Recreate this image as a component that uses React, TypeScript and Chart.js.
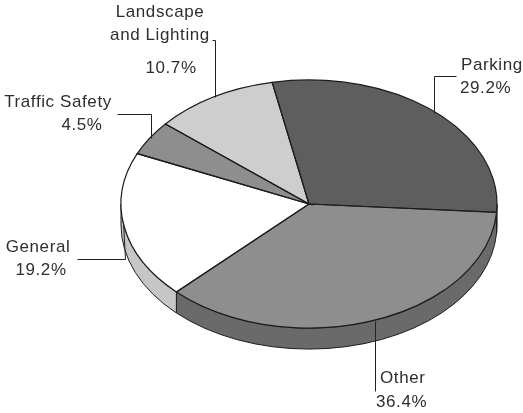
import React, { useEffect, useRef } from "react";
import { Chart, registerables } from "chart.js";

Chart.register(...registerables);

const categories = ["Parking", "Other", "General", "Traffic Safety", "Landscape and Lighting"];
const shares = [29.2, 36.4, 19.2, 4.5, 10.7];

const topColors = ["#5e5e5e", "#8e8e8e", "#ffffff", "#8e8e8e", "#cecece"];
const sideColors = ["#484848", "#6a6a6a", "#c6c6c6", "#6a6a6a", "#9e9e9e"];

const SQUASH = 0.66;
const DEPTH = 21;
const OUTLINE = "#1c1c1c";
const TEXT = "#2e2e2e";
const FONT = "17px 'Liberation Sans', Arial, sans-serif";

type Note = { lines: [string, number, number][]; align: CanvasTextAlign; leader: [number, number][] };

const notes: Note[] = [
  { align: "left", lines: [["Parking", 461, 65], ["29.2%", 460, 88]], leader: [[456, 76], [434, 76], [434, 113]] },
  { align: "left", lines: [["Other", 380, 378], ["36.4%", 376, 402]], leader: [[375, 321], [375, 391]] },
  { align: "center", lines: [["General", 38, 247], ["19.2%", 41, 270]], leader: [[77, 259], [125, 259], [123, 222]] },
  { align: "center", lines: [["Traffic Safety", 58, 102], ["4.5%", 82, 125]], leader: [[117, 114], [151, 114], [151, 138]] },
  { align: "center", lines: [["Landscape", 160, 12], ["and Lighting", 160, 35], ["10.7%", 171, 68]], leader: [[212, 40], [215, 40], [215, 97]] },
];

const pie3d = {
  id: "pie3d",
  beforeDatasetsDraw(chart: any) {
    const ctx: CanvasRenderingContext2D = chart.ctx;
    const arcs = chart.getDatasetMeta(0).data;
    const { x: cx, y: cy, outerRadius: r } = arcs[0];
    ctx.save();
    // Side wall of the disc: only the front half of the rim can be seen.
    arcs.forEach((arc: any, i: number) => {
      const two = Math.PI * 2;
      let a = arc.startAngle % two;
      if (a < -1e-6) a += two;
      const b = a + (arc.endAngle - arc.startAngle);
      const ranges = [[a, b], [a - two, b - two]];
      ranges.forEach(([s, e]) => {
        const from = Math.max(s, 0);
        const to = Math.min(e, Math.PI);
        if (to <= from) return;
        ctx.save();
        ctx.translate(cx, cy);
        ctx.scale(1, SQUASH);
        ctx.beginPath();
        ctx.arc(0, 0, r, from, to);
        ctx.arc(0, DEPTH / SQUASH, r, to, from, true);
        ctx.closePath();
        ctx.restore();
        ctx.fillStyle = sideColors[i];
        ctx.fill();
        ctx.strokeStyle = OUTLINE;
        ctx.lineWidth = 1;
        ctx.stroke();
      });
    });
    // Squash the library's own arcs onto the tilted disc.
    ctx.translate(cx, cy);
    ctx.scale(1, SQUASH);
    ctx.translate(-cx, -cy);
  },
  afterDatasetsDraw(chart: any) {
    const ctx: CanvasRenderingContext2D = chart.ctx;
    const arcs = chart.getDatasetMeta(0).data;
    ctx.restore();
    // Even-width outlines for each slice.
    arcs.forEach((arc: any) => {
      ctx.save();
      ctx.translate(arc.x, arc.y);
      ctx.scale(1, SQUASH);
      ctx.beginPath();
      ctx.moveTo(0, 0);
      ctx.arc(0, 0, arc.outerRadius, arc.startAngle, arc.endAngle);
      ctx.closePath();
      ctx.restore();
      ctx.strokeStyle = OUTLINE;
      ctx.lineWidth = 1.2;
      ctx.stroke();
    });
    // Call-out lines and labels.
    ctx.save();
    notes.forEach((note) => {
      ctx.beginPath();
      note.leader.forEach(([x, y], i) => (i ? ctx.lineTo(x + 0.5, y + 0.5) : ctx.moveTo(x + 0.5, y + 0.5)));
      ctx.strokeStyle = "#222222";
      ctx.lineWidth = 1;
      ctx.stroke();
      ctx.fillStyle = TEXT;
      ctx.font = FONT;
      (ctx as any).letterSpacing = "0.6px";
      ctx.textAlign = note.align;
      ctx.textBaseline = "middle";
      note.lines.forEach(([t, x, y]) => ctx.fillText(t, x, y));
    });
    ctx.restore();
  },
};

export default function App() {
  const ref = useRef<HTMLCanvasElement>(null);
  useEffect(() => {
    document.body.style.margin = "0";
    document.body.style.background = "#fff";
    const chart = new Chart(ref.current!, {
      type: "pie",
      data: {
        labels: categories,
        datasets: [{ data: shares, backgroundColor: topColors, borderWidth: 0, clip: false } as any],
      },
      options: {
        responsive: false,
        animation: false,
        events: [],
        rotation: -11.3,
        layout: { padding: { left: 121, right: 26, top: 16, bottom: 21 } },
        plugins: { legend: { display: false }, tooltip: { enabled: false } },
      },
      plugins: [pie3d],
    });
    return () => chart.destroy();
  }, []);
  return <canvas ref={ref} width={523} height={413} style={{ display: "block" }} />;
}
